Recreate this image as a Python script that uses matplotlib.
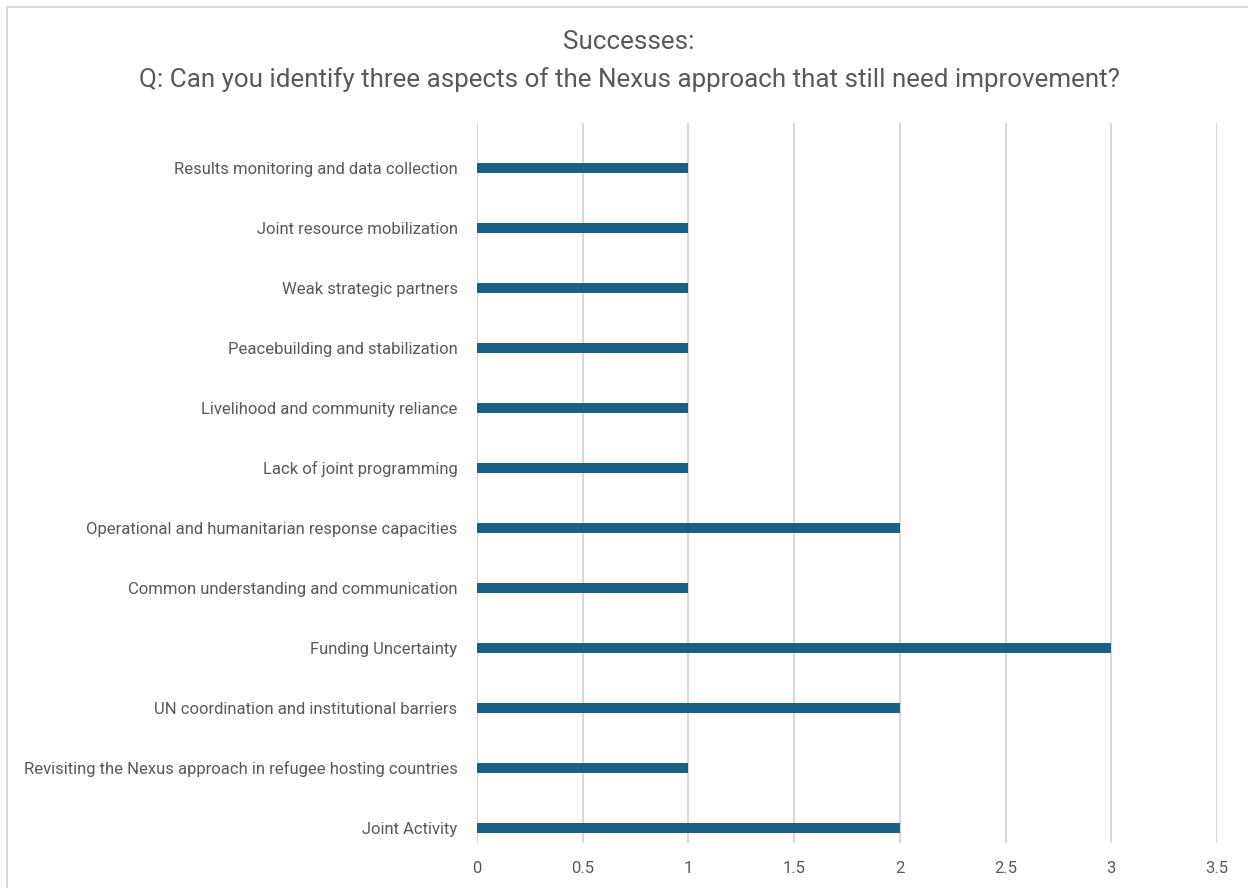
import matplotlib.pyplot as plt
from matplotlib.patches import Rectangle
import numpy as np

# categories from top to bottom as shown in the chart
categorias = [
    "Results monitoring and data collection",
    "Joint resource mobilization",
    "Weak strategic partners",
    "Peacebuilding and stabilization",
    "Livelihood and community reliance",
    "Lack of joint programming",
    "Operational and humanitarian response capacities",
    "Common understanding and communication",
    "Funding Uncertainty",
    "UN coordination and institutional barriers",
    "Revisiting the Nexus approach in refugee hosting countries",
    "Joint Activity",
]
valores = [1, 1, 1, 1, 1, 1, 2, 1, 3, 2, 1, 2]
xticks = [0, 0.5, 1, 1.5, 2, 2.5, 3, 3.5]
titulo = "Successes:\nQ: Can you identify three aspects of the Nexus approach that still need improvement?"

plt.rcParams['font.family'] = ['Roboto', 'DejaVu Sans']
gris_texto = '#595959'

fig = plt.figure(figsize=(12.48, 8.88), dpi=100)
ax = fig.add_axes([0.3822, 0.0507, 0.593, 0.8108])

y = np.arange(len(categorias))
ax.barh(y, valores, height=0.18, color='#1b5f82', zorder=3)
# las barras quedan en la parte baja de cada banda (como en Excel)
ax.set_ylim(len(categorias) - 0.75, -0.75)
ax.set_xlim(0, 3.5)

ax.set_yticks(y)
ax.set_yticklabels(categorias, fontsize=12, color=gris_texto)
ax.set_xticks(xticks)
ax.set_xticklabels([f"{t:g}" for t in xticks], fontsize=12, color=gris_texto)
ax.tick_params(axis='both', length=0)
ax.tick_params(axis='y', pad=14)
ax.tick_params(axis='x', pad=13)

ax.grid(axis='x', color='#d9d9d9', linewidth=1.5, zorder=0)
ax.grid(axis='y', visible=False)
for s in ax.spines.values():
    s.set_visible(False)

fig.text(0.504, 0.931, titulo, ha='center', va='center', fontsize=18.7,
         color=gris_texto, linespacing=1.65)

# borde del grafico
fig.patches.append(Rectangle((7 / 1248, -0.05), 1.1, 1 - 7 / 888 + 0.05,
                             transform=fig.transFigure, fill=False,
                             edgecolor='#d9d9d9', linewidth=1.5))

fig.savefig('out.png', dpi=100)
